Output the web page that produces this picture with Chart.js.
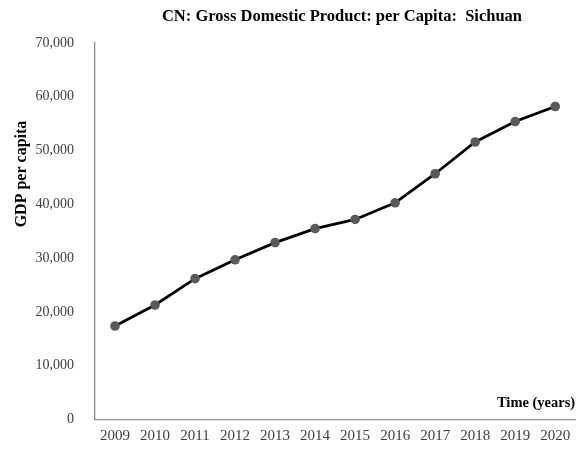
<!DOCTYPE html>
<html>
<head>
<meta charset="utf-8">
<script src="https://cdn.jsdelivr.net/npm/chart.js@4.4.0/dist/chart.umd.min.js"></script>
<style>
  html, body { margin: 0; padding: 0; background: #fff; }
  #wrap { width: 580px; height: 449px; }
</style>
</head>
<body>
<div id="wrap"><canvas id="myChart" width="580" height="449"></canvas></div>
<script>
const years = ['2009', '2010', '2011', '2012', '2013', '2014', '2015', '2016', '2017', '2018', '2019', '2020'];
const gdpPerCapita = [17400, 21300, 26200, 29700, 32900, 35500, 37200, 40300, 45700, 51600, 55400, 58200];
const yTicks = [0, 10000, 20000, 30000, 40000, 50000, 60000, 70000];

const serif = "'Liberation Serif', 'Times New Roman', serif";

// title, rotated y title and the "Time (years)" note inside the plot
const sideLabels = {
  id: 'sideLabels',
  afterDraw(chart) {
    const ctx = chart.ctx;
    const area = chart.chartArea;

    ctx.save();
    ctx.fillStyle = '#000';
    ctx.font = 'bold 16.5px ' + serif;
    ctx.textAlign = 'center';
    ctx.textBaseline = 'middle';
    ctx.fillText('CN: Gross Domestic Product: per Capita:  Sichuan', 342, 17);
    ctx.restore();

    ctx.save();
    ctx.fillStyle = '#000';
    ctx.font = 'bold 16px ' + serif;
    ctx.textAlign = 'center';
    ctx.textBaseline = 'middle';
    ctx.translate(22, 174);
    ctx.rotate(-Math.PI / 2);
    ctx.fillText('GDP per capita', 0, 0);
    ctx.restore();

    ctx.save();
    ctx.fillStyle = '#000';
    ctx.font = 'bold 14.5px ' + serif;
    ctx.textAlign = 'right';
    ctx.textBaseline = 'middle';
    ctx.fillText('Time (years)', area.right, area.bottom - 16);
    ctx.restore();
  }
};

new Chart(document.getElementById('myChart'), {
  type: 'line',
  data: {
    labels: years,
    datasets: [{
      data: gdpPerCapita,
      borderColor: '#000',
      borderWidth: 2.8,
      pointBackgroundColor: '#5a5a5a',
      pointBorderColor: '#5a5a5a',
      pointRadius: 4.8,
      pointBorderWidth: 0,
      tension: 0
    }]
  },
  options: {
    responsive: false,
    animation: false,
    layout: { padding: { left: 0, right: 2, top: 43, bottom: 0 } },
    plugins: {
      legend: { display: false },
      tooltip: { enabled: false },
      title: { display: false }
    },
    scales: {
      x: {
        offset: true,
        grid: { display: false, drawTicks: false },
        border: { color: '#8c8c8c', width: 1.3 },
        ticks: {
          color: '#404040',
          padding: 7,
          maxRotation: 0,
          autoSkip: false,
          font: { family: serif, size: 15 }
        },
        afterFit(scale) { scale.height = 27; }
      },
      y: {
        min: 0,
        max: 70000,
        afterBuildTicks(scale) { scale.ticks = yTicks.map(v => ({ value: v })); },
        grid: { display: false, drawTicks: false },
        border: { color: '#8c8c8c', width: 1.3 },
        ticks: {
          color: '#404040',
          padding: 21,
          font: { family: serif, size: 14 },
          callback: v => v.toLocaleString('en-US')
        },
        afterFit(scale) { scale.width = 95; }
      }
    }
  },
  plugins: [sideLabels]
});
</script>
</body>
</html>
